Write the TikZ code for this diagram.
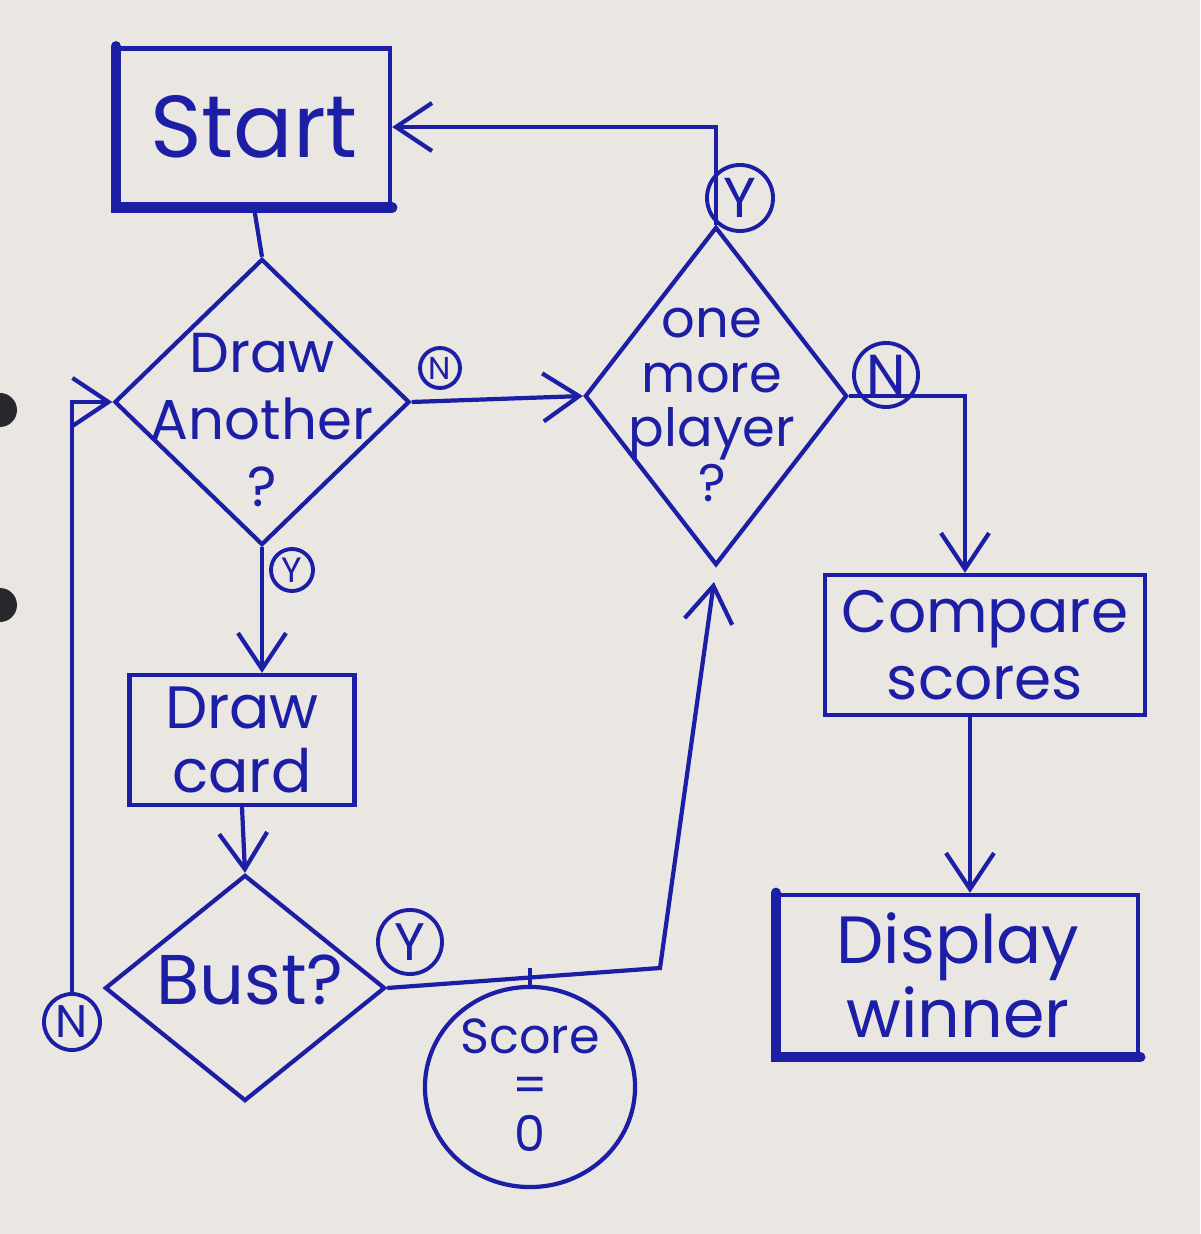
\documentclass[tikz,border=0pt]{standalone}
\usepackage{fontspec}
\setmainfont{Poppins}
\usetikzlibrary{arrows.meta,calc,positioning,shapes.geometric}
\definecolor{ink}{RGB}{28,30,165}
\definecolor{paper}{RGB}{234,231,226}
\definecolor{hole}{RGB}{40,40,44}

\begin{document}
\begin{tikzpicture}[
    x=0.01cm, y=-0.01cm,
    >={Straight Barb[length=3.6mm,width=4.8mm]},
    color=ink,
    box/.style={
        draw,
        rectangle,
        line width=1.2pt,
        inner sep=2pt,
        align=center
    },
    decision/.style={
        draw,
        diamond,
        line width=1.2pt,
        inner sep=0pt
    },
    qtext/.style={align=center},
    yn/.style={draw, circle, line width=1.1pt, inner sep=0pt},
    heavy/.style={line width=3pt, line cap=round},
    arrow/.style={->, line width=1.2pt}
]

% Page of the notebook.
\useasboundingbox (0,0) rectangle (1200,1234);
\fill[paper] (0,0) rectangle (1200,1234);
\fill[hole] (0,410) circle (17);
\fill[hole] (0,605) circle (17);

% Start and the first question.
\node[box, minimum width=2.72cm, minimum height=1.57cm,
      font=\fontsize{25}{28}\selectfont] (start) at (254,127) {Start};
\draw[heavy] (start.north west) -- (start.south west) -- (start.south east);

\node[decision, minimum width=2.95cm, minimum height=2.86cm] (another) at (262,402) {};
\node[qtext, font=\fontsize{16}{19}\selectfont] (anotherT) at (262,420)
    {Draw\\Another\\?};
\node[yn, minimum size=0.4cm, font=\fontsize{9}{9}\selectfont] (anotherN) at (440,368) {N};
\node[yn, minimum size=0.42cm, font=\fontsize{10}{10}\selectfont] (anotherY) at (292,570) {Y};

% Drawing a card and the bust test.
\node[box, minimum width=2.25cm, minimum height=1.3cm,
      font=\fontsize{17}{18}\selectfont] (card) at (242,740) {Draw\\card};

\node[decision, minimum width=2.8cm, minimum height=2.26cm] (bust) at (245,988) {};
\node[qtext, font=\fontsize{20}{22}\selectfont] (bustT) at (250,980) {Bust?};
\node[yn, minimum size=0.56cm, font=\fontsize{13}{13}\selectfont] (bustN) at (72,1022) {N};
\node[yn, minimum size=0.64cm, font=\fontsize{15}{15}\selectfont] (bustY) at (410,942) {Y};

\node[draw, ellipse, line width=1.2pt, minimum width=2.1cm, minimum height=2.0cm]
    (score) at (530,1087) {};
\node[qtext, font=\fontsize{14}{14}\selectfont] (scoreT) at (530,1085) {Score\\=\\0};

% Next player, scores and winner.
\node[decision, minimum width=2.62cm, minimum height=3.38cm] (more) at (716,396) {};
\node[qtext, font=\fontsize{15}{15.5}\selectfont] (moreT) at (712,405)
    {one\\more\\player\\?};
\node[yn, minimum size=0.66cm, font=\fontsize{16}{16}\selectfont] (moreY) at (740,198) {Y};
\node[yn, minimum size=0.64cm, font=\fontsize{16}{16}\selectfont] (moreN) at (886,375) {N};

\node[box, minimum width=3.2cm, minimum height=1.4cm,
      font=\fontsize{17}{19}\selectfont] (compare) at (985,645) {Compare\\scores};

\node[box, minimum width=3.6cm, minimum height=1.6cm,
      font=\fontsize{19}{21}\selectfont] (display) at (958,975) {Display\\winner};
\draw[heavy] (display.north west) -- (display.south west) -- (display.south east);

% Connectors.
\coordinate (join) at (660,968);
\draw[line width=1.2pt] (start.south) -- (another.north);
\draw[arrow] (another.east) -- (more.west);
\draw[arrow] (another.south) -- (another.south |- card.north);
\draw[arrow] (card.south) -- (bust.north);
\draw[arrow] (bustN.north) -- (bustN.north |- another.west) -- (another.west);
\draw[arrow, shorten >=0.15cm] (bust.east) -- (join) -- (more.south);
\draw[line width=1.2pt] (score.north) -- (score.north |- join);
\draw[arrow] (more.north) -- (more.north |- start.east) -- (start.east);
\draw[arrow] (more.east) -| ([xshift=-0.2cm]compare.north);
\draw[arrow] ([xshift=-0.15cm]compare.south) -- ([xshift=-0.15cm]compare.south |- display.north);

\end{tikzpicture}
\end{document}
